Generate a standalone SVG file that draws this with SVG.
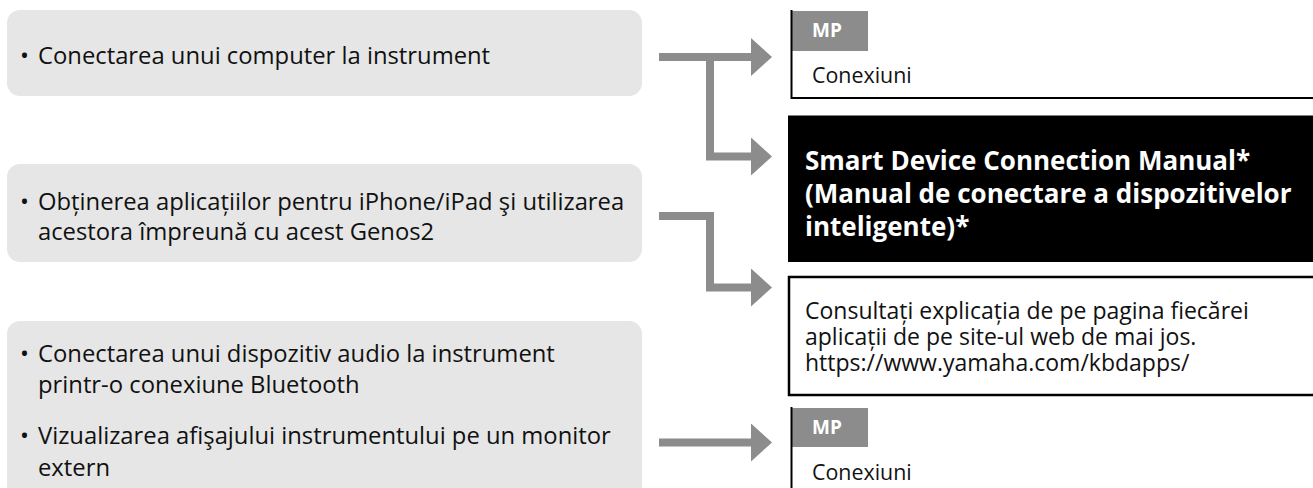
<svg xmlns="http://www.w3.org/2000/svg" width="1313" height="488" viewBox="0 0 1313 488">
<style>
.lbox{fill:#e6e6e6}
.lt{font-family:"Open Sans","Noto Sans",sans-serif;font-size:23.8px;fill:#111}
.rt{font-family:"Open Sans","Noto Sans",sans-serif;font-size:21.4px;fill:#111}
.ct{font-family:"Open Sans","Noto Sans",sans-serif;font-size:23px;fill:#111}
.mp{font-family:"Open Sans","Noto Sans",sans-serif;font-size:19px;font-weight:bold;fill:#fff}
.bt{font-family:"Open Sans","Noto Sans",sans-serif;font-size:26px;font-weight:bold;fill:#fff}
.tab{fill:#8c8c8c}
.edge{fill:none;stroke:#8c8c8c;stroke-width:8;stroke-linejoin:miter}
.bl{stroke:#000;stroke-width:2;fill:none}
</style>
<defs>
<marker id="ah" markerUnits="userSpaceOnUse" markerWidth="21" markerHeight="38" refX="0" refY="19" orient="auto" viewBox="0 0 21 38">
<path d="M0,0 L21,19 L0,38 Z" fill="#8c8c8c"/>
</marker>
</defs>
<g id="src1">
<rect class="lbox" x="7" y="10" width="635" height="86" rx="13"/>
<text class="lt" y="64"><tspan x="20">•</tspan><tspan x="38">Conectarea unui computer la instrument</tspan></text>
</g>
<g id="src2">
<rect class="lbox" x="7" y="164" width="635" height="98" rx="13"/>
<text class="lt" y="210"><tspan x="20">•</tspan><tspan x="38">Obținerea aplicațiilor pentru iPhone/iPad şi utilizarea</tspan></text>
<text class="lt" x="38" y="240">acestora împreună cu acest Genos2</text>
</g>
<g id="src3">
<rect class="lbox" x="7" y="321" width="635" height="200" rx="13"/>
<text class="lt" y="362"><tspan x="20">•</tspan><tspan x="38">Conectarea unui dispozitiv audio la instrument</tspan></text>
<text class="lt" x="38" y="393">printr-o conexiune Bluetooth</text>
<text class="lt" y="444"><tspan x="20">•</tspan><tspan x="38">Vizualizarea afişajului instrumentului pe un monitor</tspan></text>
<text class="lt" x="38" y="476">extern</text>
</g>
<g id="connectors">
<path class="edge" d="M659,57 H751" marker-end="url(#ah)"/>
<path class="edge" d="M710,57 V156.5 H751" marker-end="url(#ah)"/>
<path class="edge" d="M659,216 H710 V287.5 H751" marker-end="url(#ah)"/>
<path class="edge" d="M659,442.5 H751" marker-end="url(#ah)"/>
</g>
<g id="mp1">
<rect class="tab" x="792" y="11" width="76" height="40"/>
<path class="bl" d="M791.5,10 V98 H1313"/>
<text class="mp" x="812" y="37">MP</text>
<text class="rt" x="812" y="83">Conexiuni</text>
</g>
<g id="smart">
<rect x="788" y="115.5" width="530" height="146.5" fill="#000"/>
<text class="bt" x="805" y="170">Smart Device Connection Manual*</text>
<text class="bt" x="805" y="203">(Manual de conectare a dispozitivelor</text>
<text class="bt" x="805" y="236">inteligente)*</text>
</g>
<g id="consult">
<rect x="789" y="277" width="530" height="118" fill="#fff" stroke="#000" stroke-width="2.5"/>
<text class="ct" x="805" y="319">Consultați explicația de pe pagina fiecărei</text>
<text class="ct" x="805" y="345">aplicații de pe site-ul web de mai jos.</text>
<text class="ct" x="805" y="371">https://www.yamaha.com/kbdapps/</text>
</g>
<g id="mp2">
<rect class="tab" x="792" y="408" width="76" height="39"/>
<path class="bl" d="M791.5,407 V490"/>
<text class="mp" x="812" y="434">MP</text>
<text class="rt" x="812" y="480">Conexiuni</text>
</g>
</svg>
